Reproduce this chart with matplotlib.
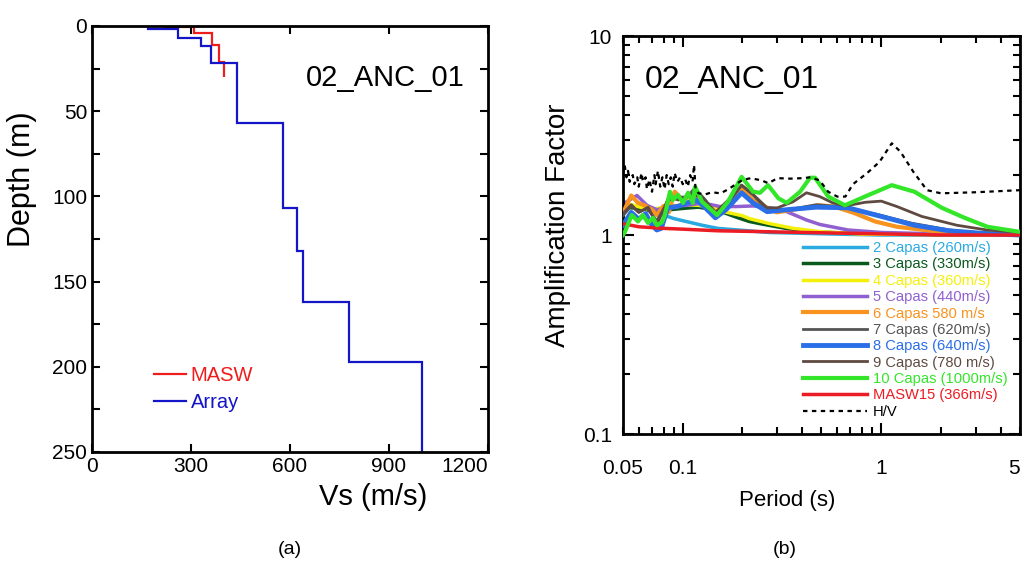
import numpy as np
import matplotlib.pyplot as plt
from matplotlib.ticker import FixedLocator, NullFormatter, FixedFormatter

plt.rcParams['font.family'] = ['Liberation Sans', 'DejaVu Sans']

# (a) Vs profiles: layer velocities and layer boundaries (m)
array_vs = [170, 260, 330, 360, 440, 580, 620, 640, 780, 1000]
array_edges = [0, 2, 7, 12, 22, 57, 107, 132, 162, 197, 250]
masw_vs = [220, 310, 365, 385, 400]
masw_edges = [0, 0.5, 4, 11, 21, 30]

# (b) amplification curves, period (s) / amplification
t_2 = [0.05, 0.06, 0.07, 0.08, 0.09, 0.1, 0.125, 0.15, 0.19, 0.27, 0.4, 0.6, 1.0, 5.0]
a_2 = [1.45, 1.38, 1.31, 1.26, 1.21, 1.18, 1.12, 1.08, 1.06, 1.03, 1.02, 1.01, 1.0, 1.0]

t_3 = [0.05, 0.06, 0.07, 0.08, 0.1, 0.12, 0.15, 0.19, 0.216, 0.245, 0.33, 0.45, 0.7, 1.0, 5.0]
a_3 = [1.38, 1.36, 1.33, 1.33, 1.36, 1.38, 1.33, 1.22, 1.17, 1.14, 1.08, 1.04, 1.02, 1.01, 1.0]

t_4 = [0.05, 0.055, 0.068, 0.086, 0.1, 0.12, 0.142, 0.167, 0.2, 0.216, 0.275, 0.36, 0.49, 0.8, 5.0]
a_4 = [1.45, 1.42, 1.34, 1.39, 1.42, 1.41, 1.37, 1.30, 1.25, 1.21, 1.14, 1.08, 1.04, 1.01, 1.0]

t_5 = [0.05, 0.051, 0.0588, 0.066, 0.074, 0.086, 0.105, 0.126, 0.154, 0.187, 0.226,
       0.275, 0.334, 0.42, 0.49, 0.68, 1.0, 1.47, 5.0]
a_5 = [1.42, 1.45, 1.58, 1.41, 1.34, 1.39, 1.41, 1.45, 1.39, 1.39, 1.40,
       1.37, 1.31, 1.19, 1.13, 1.06, 1.03, 1.02, 1.0]

t_6 = [0.05, 0.055, 0.0595, 0.064, 0.070, 0.074, 0.08, 0.085, 0.091, 0.1, 0.112, 0.122,
       0.135, 0.149, 0.172, 0.198, 0.226, 0.266, 0.298, 0.36, 0.49, 0.58, 0.73, 0.93,
       1.2, 1.79, 2.63, 5.0]
a_6 = [1.29, 1.58, 1.45, 1.41, 1.34, 1.26, 1.40, 1.30, 1.65, 1.50, 1.59, 1.56,
       1.40, 1.29, 1.50, 1.72, 1.50, 1.37, 1.30, 1.34, 1.41, 1.39, 1.29, 1.17,
       1.10, 1.05, 1.02, 1.0]

t_7 = [0.05, 0.055, 0.06, 0.066, 0.074, 0.085, 0.095, 0.105, 0.115, 0.13, 0.146, 0.17,
       0.198, 0.226, 0.266, 0.33, 0.47, 0.65, 0.95, 1.4, 2.2, 3.3, 5.0]
a_7 = [1.25, 1.40, 1.30, 1.36, 1.18, 1.50, 1.55, 1.55, 1.72, 1.50, 1.29, 1.45,
       1.78, 1.59, 1.34, 1.33, 1.42, 1.38, 1.27, 1.15, 1.06, 1.02, 1.0]

t_8 = [0.05, 0.055, 0.06, 0.065, 0.07, 0.074, 0.078, 0.084, 0.094, 0.105, 0.117, 0.13,
       0.146, 0.165, 0.198, 0.226, 0.266, 0.334, 0.47, 0.68, 1.0, 1.47, 2.2, 3.2, 5.0]
a_8 = [1.12, 1.30, 1.20, 1.28, 1.12, 1.06, 1.08, 1.37, 1.39, 1.45, 1.50, 1.37,
       1.22, 1.34, 1.63, 1.45, 1.31, 1.34, 1.38, 1.37, 1.24, 1.12, 1.05, 1.02, 1.0]

t_9 = [0.05, 0.055, 0.06, 0.067, 0.074, 0.085, 0.095, 0.11, 0.125, 0.146, 0.17, 0.198,
       0.226, 0.266, 0.30, 0.36, 0.42, 0.49, 0.57, 0.66, 0.83, 1.0, 1.2, 1.6, 2.4,
       3.4, 5.0]
a_9 = [1.28, 1.42, 1.30, 1.38, 1.12, 1.55, 1.50, 1.60, 1.55, 1.30, 1.50, 1.78,
       1.60, 1.37, 1.37, 1.47, 1.63, 1.56, 1.45, 1.40, 1.46, 1.48, 1.39, 1.24, 1.12,
       1.06, 1.03]

t_10 = [0.05, 0.0512, 0.0553, 0.0595, 0.063, 0.0668, 0.0708, 0.0741, 0.0786, 0.0813,
        0.0862, 0.0892, 0.0946, 0.1003, 0.1063, 0.1124, 0.1154, 0.125, 0.149, 0.169,
        0.198, 0.226, 0.245, 0.269, 0.303, 0.334, 0.39, 0.438, 0.464, 0.541, 0.656,
        0.827, 1.13, 1.47, 2.02, 2.63, 3.43, 4.9, 5.0]
a_10 = [1.0, 1.04, 1.26, 1.17, 1.26, 1.15, 1.22, 1.12, 1.16, 1.26,
        1.65, 1.50, 1.59, 1.45, 1.63, 1.45, 1.75, 1.47, 1.26, 1.47,
        1.96, 1.65, 1.63, 1.78, 1.53, 1.45, 1.65, 1.94, 1.94, 1.56, 1.41,
        1.56, 1.78, 1.65, 1.37, 1.22, 1.10, 1.04, 1.04]

t_masw = [0.05, 0.06, 0.08, 0.1, 0.15, 0.25, 0.4, 0.7, 1.2, 2.0, 5.0]
a_masw = [1.14, 1.10, 1.08, 1.07, 1.05, 1.04, 1.03, 1.02, 1.01, 1.0, 1.0]

t_hv = [0.050, 0.051, 0.052, 0.053, 0.054, 0.056, 0.057, 0.059, 0.060, 0.062, 0.063,
        0.065, 0.066, 0.068, 0.070, 0.072, 0.073, 0.075, 0.077, 0.079, 0.081, 0.083,
        0.085, 0.087, 0.089, 0.091, 0.094, 0.097, 0.100, 0.103, 0.106, 0.109, 0.112,
        0.114, 0.116, 0.12, 0.13, 0.14, 0.155, 0.17, 0.185, 0.2, 0.22, 0.25, 0.27,
        0.3, 0.35, 0.4, 0.44, 0.49, 0.54, 0.6, 0.66, 0.72, 0.85, 0.98, 1.13, 1.25,
        1.45, 1.7, 2.0, 3.0, 5.0]
a_hv = [2.05, 2.25, 1.95, 2.10, 1.85, 2.00, 1.80, 1.95, 1.75, 2.05, 1.85,
        1.95, 1.70, 1.90, 1.65, 2.00, 1.80, 2.10, 1.75, 1.95, 1.70, 2.00,
        1.80, 1.95, 1.75, 2.05, 1.85, 1.95, 1.80, 1.90, 1.75, 2.00, 1.85,
        2.25, 1.70, 1.62, 1.60, 1.64, 1.62, 1.70, 1.80, 1.89, 1.93, 1.88, 1.82,
        1.93, 1.92, 1.93, 1.95, 1.88, 1.65, 1.56, 1.56, 1.80, 2.05, 2.33, 2.89, 2.62,
        2.08, 1.68, 1.62, 1.64, 1.68]

labels = ["2 Capas (260m/s)", "3 Capas (330m/s)", "4 Capas (360m/s)", "5 Capas (440m/s)",
          "6 Capas 580 m/s", "7 Capas (620m/s)", "8 Capas (640m/s)", "9 Capas (780 m/s)",
          "10 Capas (1000m/s)", "MASW15 (366m/s)", "H/V"]

fig = plt.figure(figsize=(10.25, 5.76), dpi=100)

# ---- (a) ----
ax1 = fig.add_axes([0.0898, 0.2153, 0.3863, 0.7396])
ax1.stairs(masw_vs, masw_edges, orientation='horizontal', baseline=None,
           color='#ee1c1c', linewidth=1.6, label='MASW')
ax1.stairs(array_vs, array_edges, orientation='horizontal', baseline=None,
           color='#1414c8', linewidth=1.6, label='Array')
ax1.set_xlim(0, 1200)
ax1.set_ylim(250, 0)
ax1.set_xticks([0, 300, 600, 900, 1200])
ax1.set_yticks([0, 50, 100, 150, 200, 250])
ax1.yaxis.set_minor_locator(FixedLocator(np.arange(25, 250, 50)))
ax1.tick_params(direction='in', which='both', top=True, right=True, labelsize=15,
                length=6, width=1.5)
ax1.tick_params(which='minor', length=6)
for s in ax1.spines.values():
    s.set_linewidth(2)
ax1.set_xlabel('Vs (m/s)', fontsize=21)
ax1.xaxis.set_label_coords(0.71, -0.072)
ax1.set_ylabel('Depth (m)', fontsize=22)
ax1.yaxis.set_label_coords(-0.14, 0.64)
ax1.text(0.942, 0.878, '02_ANC_01', transform=ax1.transAxes, ha='right', va='center',
         fontsize=21)
ax1.legend(loc='lower left', bbox_to_anchor=(0.13, 0.07), frameon=False, fontsize=14.5,
           handlelength=1.6, handletextpad=0.25, labelspacing=0.4, labelcolor='linecolor',
           borderpad=0)
fig.canvas.draw()
ax1.get_xticklabels()[-1].set_horizontalalignment('right')

# ---- (b) ----
ax2 = fig.add_axes([0.6078, 0.2465, 0.3873, 0.691])
curves = [
    (t_2, a_2, '#29aae1', 2.5),
    (t_3, a_3, '#0a5a1e', 2.5),
    (t_4, a_4, '#f5f00a', 2.5),
    (t_5, a_5, '#9060d0', 2.5),
    (t_6, a_6, '#f7931e', 3.0),
    (t_7, a_7, '#555555', 2.0),
    (t_8, a_8, '#2a6ee8', 3.5),
    (t_9, a_9, '#5e4a40', 2.0),
    (t_10, a_10, '#33e62a', 3.0),
    (t_masw, a_masw, '#ec1c24', 2.5),
]
zorders = [2, 2, 2, 2, 3, 3, 4, 4, 6, 5]
for (t, a, c, lw), lab, z in zip(curves, labels, zorders):
    ax2.plot(t, a, color=c, linewidth=lw, label=lab, zorder=z)
ax2.plot(t_hv, a_hv, color='black', linewidth=1.6, linestyle=(0, (2, 2)),
         label=labels[-1], zorder=7)

ax2.set_xscale('log')
ax2.set_yscale('log')
ax2.set_xlim(0.05, 5)
ax2.set_ylim(0.1, 10)
ax2.xaxis.set_major_locator(FixedLocator([0.1, 1]))
ax2.xaxis.set_minor_locator(FixedLocator([0.05, 0.06, 0.07, 0.08, 0.09,
                                          0.2, 0.3, 0.4, 0.5, 0.6, 0.7, 0.8, 0.9,
                                          2, 3, 4, 5]))
ax2.xaxis.set_major_formatter(FixedFormatter(['0.1', '1']))
ax2.xaxis.set_minor_formatter(FixedFormatter(['0.05', '', '', '', '',
                                              '', '', '', '', '', '', '', '',
                                              '', '', '', '5']))
ax2.yaxis.set_major_locator(FixedLocator([0.1, 1, 10]))
ax2.yaxis.set_major_formatter(FixedFormatter(['0.1', '1', '10']))
ax2.yaxis.set_minor_locator(FixedLocator([0.2, 0.3, 0.4, 0.5, 0.6, 0.7, 0.8, 0.9,
                                          2, 3, 4, 5, 6, 7, 8, 9]))
ax2.yaxis.set_minor_formatter(NullFormatter())
ax2.tick_params(direction='in', which='both', top=True, right=True, labelsize=15,
                width=1.5)
ax2.tick_params(which='major', length=8)
ax2.tick_params(which='minor', length=5)
ax2.tick_params(axis='y', which='both', pad=8)
ax2.tick_params(axis='x', which='both', pad=18)
for s in ax2.spines.values():
    s.set_linewidth(2)
ax2.set_xlabel('Period (s)', fontsize=16)
ax2.xaxis.set_label_coords(0.413, -0.14)
ax2.set_ylabel('Amplification Factor', fontsize=20)
ax2.yaxis.set_label_coords(-0.13, 0.525)
ax2.text(0.055, 0.889, '02_ANC_01', transform=ax2.transAxes, ha='left', va='center',
         fontsize=23)
ax2.legend(loc='lower right', bbox_to_anchor=(0.988, 0.02), frameon=False, fontsize=10.6,
           handlelength=4.35, handletextpad=0.4, labelspacing=0.16, labelcolor='linecolor',
           borderpad=0)
fig.canvas.draw()
ax2.get_xticklabels(minor=True)[-1].set_horizontalalignment('right')

fig.text(290 / 1025, 1 - 550 / 576, '(a)', ha='center', va='center', fontsize=14)
fig.text(785 / 1025, 1 - 550 / 576, '(b)', ha='center', va='center', fontsize=14)

fig.savefig('out.png', dpi=100)
